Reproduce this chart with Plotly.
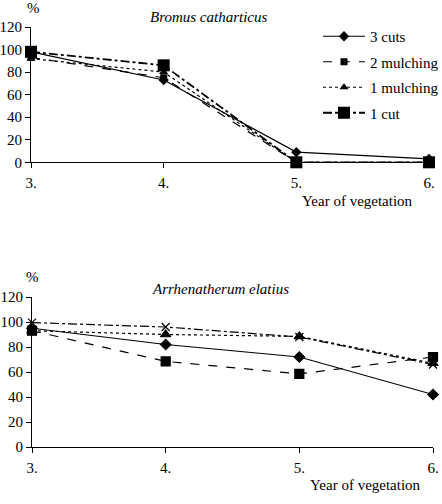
import plotly.graph_objects as go

W, H = 442, 504
years = [3, 4, 5, 6]
year_labels = ["3.", "4.", "5.", "6."]
series_names = ["3 cuts", "2 mulching", "1 mulching", "1 cut"]

bromus_3cuts = [98, 73, 9, 3]
bromus_2mulch = [93, 75, 0, 0]
bromus_1mulch = [92, 80, 0, 0]
bromus_1cut = [98, 86, 0, 0]

arrh_3cuts = [95, 82, 72, 42]
arrh_2mulch = [93, 68.5, 58.5, 72]
arrh_1mulch = [93, 90, 88.5, 67]
arrh_1cut = [99.5, 96, 88, 66]

FONT = "Liberation Serif"

def px(x):
    return x / W

def py(y):
    return 1 - y / H

styles = [
    dict(dash="solid", symbol="diamond", size=8, width=1.2),
    dict(dash="dash", symbol="square", size=7, width=1.2),
    dict(dash="dot", symbol="triangle-up", size=8, width=1.2),
    dict(dash="dashdot", symbol="square", size=12, width=1.8),
]

fig = go.Figure()

top_data = [bromus_3cuts, bromus_2mulch, bromus_1mulch, bromus_1cut]
bot_data = [arrh_3cuts, arrh_2mulch, arrh_1mulch, arrh_1cut]

for i, (name, vals) in enumerate(zip(series_names, top_data)):
    s = styles[i]
    fig.add_trace(go.Scatter(
        x=years, y=vals, name=name, mode="lines+markers",
        line=dict(color="black", dash=s["dash"], width=s["width"]),
        marker=dict(symbol=s["symbol"], size=s["size"], color="black"),
        xaxis="x", yaxis="y", cliponaxis=False, legendgroup=name,
    ))

bot_styles = [
    dict(dash="solid", symbol="diamond", size=8, width=1.2),
    dict(dash="dash", symbol="square", size=9, width=1.2),
    dict(dash="dot", symbol="triangle-up", size=9, width=1.2),
    dict(dash="dashdot", symbol="x-thin", size=8, width=1.2),
]
for i, (name, vals) in enumerate(zip(series_names, bot_data)):
    s = bot_styles[i]
    fig.add_trace(go.Scatter(
        x=years, y=vals, name=name, mode="lines+markers", showlegend=False,
        line=dict(color="black", dash=s["dash"], width=s["width"]),
        marker=dict(symbol=s["symbol"], size=s["size"], color="black",
                    line=dict(color="black", width=1.2)),
        xaxis="x2", yaxis="y2", cliponaxis=False,
    ))

axis_common = dict(
    showgrid=False, zeroline=False, showline=True, linecolor="black", linewidth=1,
    ticks="outside", tickcolor="black", ticklen=5, tickwidth=1,
    tickfont=dict(family=FONT, size=15, color="black"),
)

fig.update_layout(
    width=W, height=H,
    margin=dict(l=0, r=0, t=0, b=0, autoexpand=False),
    paper_bgcolor="white", plot_bgcolor="white",
    font=dict(family=FONT, size=14, color="black"),
    xaxis=dict(domain=[px(31), px(429)], range=[3, 6], tickvals=years, ticktext=year_labels,
               anchor="y", ticklabelstandoff=2, **axis_common),
    yaxis=dict(domain=[py(162.3), py(27)], range=[0, 120], dtick=20, anchor="x", **axis_common),
    xaxis2=dict(domain=[px(32), px(433)], range=[3, 6], tickvals=years, ticktext=year_labels,
                anchor="y2", ticklabelstandoff=2, **axis_common),
    yaxis2=dict(domain=[py(447), py(297)], range=[0, 120], dtick=20, anchor="x2", **axis_common),
    legend=dict(x=px(318), y=py(20), xanchor="left", yanchor="top",
                bgcolor="rgba(0,0,0,0)", tracegroupgap=3, itemwidth=42,
                font=dict(family=FONT, size=15, color="black")),
    showlegend=True,
)

annots = [
    dict(text="%", x=px(33), y=py(8)),
    dict(text="<i>Bromus catharticus</i>", x=px(209), y=py(17)),
    dict(text="Year of vegetation", x=px(357), y=py(201)),
    dict(text="%", x=px(32), y=py(277)),
    dict(text="<i>Arrhenatherum elatius</i>", x=px(220), y=py(289)),
    dict(text="Year of vegetation", x=px(365), y=py(485)),
]
for a in annots:
    fig.add_annotation(xref="paper", yref="paper", showarrow=False,
                       xanchor="center", yanchor="middle",
                       font=dict(family=FONT, size=15, color="black"), **a)

fig.write_html("out.html")
